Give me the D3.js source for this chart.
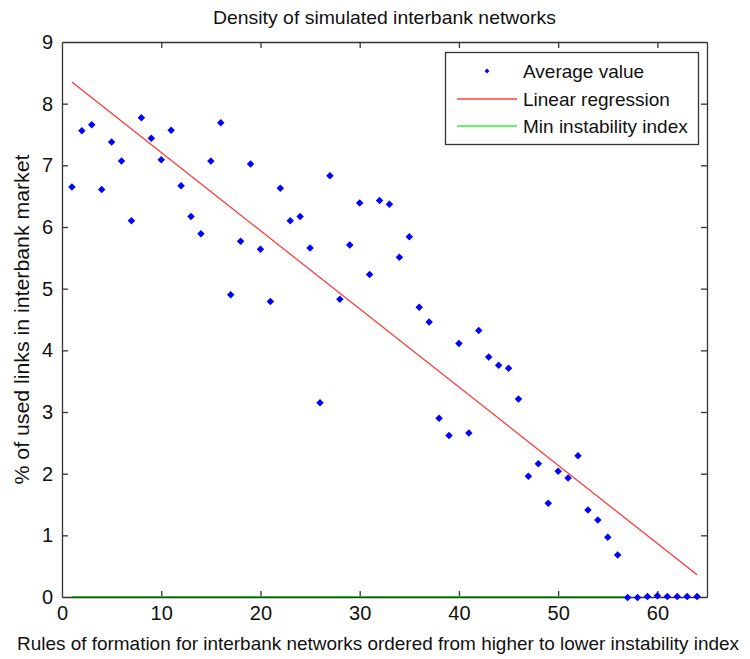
<!DOCTYPE html>
<html>
<head>
<meta charset="utf-8">
<script src="https://cdn.jsdelivr.net/npm/d3@7"></script>
<style>
  body { margin: 0; background: #fff; }
  svg { font-family: "Liberation Sans Narrow", "Arial Narrow", "Liberation Sans", Arial, sans-serif; }
</style>
</head>
<body>
<div id="chart"></div>
<script>
// rule index 1..64
const ruleIndex = d3.range(1, 65);
// average % of used links per rule
const avgValue = [
  6.65, 7.56, 7.66, 6.61, 7.38, 7.07, 6.10, 7.77, 7.44, 7.09,
  7.57, 6.67, 6.17, 5.89, 7.07, 7.69, 4.90, 5.77, 7.02, 5.64,
  4.79, 6.63, 6.10, 6.17, 5.66, 3.15, 6.83, 4.83, 5.71, 6.39,
  5.23, 6.43, 6.37, 5.51, 5.84, 4.70, 4.46, 2.90, 2.62, 4.11,
  2.66, 4.32, 3.89, 3.76, 3.71, 3.21, 1.96, 2.16, 1.52, 2.04,
  1.93, 2.29, 1.41, 1.25, 0.97, 0.68, -0.01, -0.01, 0.01, 0.02,
  0.01, 0.01, 0.01, 0.01
];
// linear regression endpoints
const regressionX = [1, 64];
const regressionY = [8.35, 0.36];
// min instability index line
const minIndexX = [1, 57];
const minIndexY = [0, 0];

const xTicks = [0, 10, 20, 30, 40, 50, 60];
const yTicks = [0, 1, 2, 3, 4, 5, 6, 7, 8, 9];
const legendLabels = ['Average value', 'Linear regression', 'Min instability index'];

const width = 750, height = 659;
const margin = { left: 62, right: 43, top: 42, bottom: 62 };

const svg = d3.select('#chart').append('svg')
  .attr('width', width)
  .attr('height', height);

const x = d3.scaleLinear().domain([0, 65]).range([margin.left, width - margin.right]);
const y = d3.scaleLinear().domain([0, 9]).range([height - margin.bottom, margin.top]);

const axisColor = '#333';
const tickLen = 6;
const fontFamily = '"Liberation Sans Narrow", "Arial Narrow", "Liberation Sans", Arial, sans-serif';

// clip
svg.append('clipPath').attr('id', 'plot-clip')
  .append('rect')
  .attr('x', x(0)).attr('y', y(9))
  .attr('width', x(65) - x(0)).attr('height', y(0) - y(9));

// axes (ticks inside, box style)
const axBottom = svg.append('g')
  .attr('transform', `translate(0,${y(0)})`)
  .call(d3.axisBottom(x).tickValues(xTicks).tickSizeInner(-tickLen).tickSizeOuter(0).tickPadding(9));
const axTop = svg.append('g')
  .attr('transform', `translate(0,${y(9)})`)
  .call(d3.axisTop(x).tickValues(xTicks).tickSizeInner(-tickLen).tickSizeOuter(0).tickFormat(''));
const axLeft = svg.append('g')
  .attr('transform', `translate(${x(0)},0)`)
  .call(d3.axisLeft(y).tickValues(yTicks).tickSizeInner(-tickLen).tickSizeOuter(0).tickPadding(9));
const axRight = svg.append('g')
  .attr('transform', `translate(${x(65)},0)`)
  .call(d3.axisRight(y).tickValues(yTicks).tickSizeInner(-tickLen).tickSizeOuter(0).tickFormat(''));

[axBottom, axTop, axLeft, axRight].forEach(g => {
  g.select('.domain').attr('stroke', axisColor).attr('stroke-width', 1.3);
  g.selectAll('.tick line').attr('stroke', axisColor).attr('stroke-width', 1.3);
  g.selectAll('.tick text').attr('fill', '#111').style('font-size', '20px')
    .style('font-family', fontFamily);
});
// corner ticks sit on the box itself
axBottom.selectAll('.tick').filter(d => d === 0).select('line').remove();
axTop.selectAll('.tick').filter(d => d === 0).select('line').remove();
axLeft.selectAll('.tick').filter(d => d === 0 || d === 9).select('line').remove();
axRight.selectAll('.tick').filter(d => d === 0 || d === 9).select('line').remove();

const plot = svg.append('g').attr('clip-path', 'url(#plot-clip)');

const line = d3.line().x(d => x(d[0])).y(d => y(d[1]));

// min instability index (green)
plot.append('path')
  .datum(d3.zip(minIndexX, minIndexY))
  .attr('d', line)
  .attr('fill', 'none')
  .attr('stroke', '#00e000')
  .attr('stroke-width', 2);

// regression (red)
plot.append('path')
  .datum(d3.zip(regressionX, regressionY))
  .attr('d', line)
  .attr('fill', 'none')
  .attr('stroke', '#ff3030')
  .attr('stroke-width', 1.2);

// points
const marker = d3.symbol().type(d3.symbolSquare).size(28);
svg.append('g')
  .selectAll('path')
  .data(d3.zip(ruleIndex, avgValue))
  .join('path')
  .attr('d', marker)
  .attr('transform', d => `translate(${x(d[0])},${y(d[1])}) rotate(45)`)
  .attr('fill', '#0000ff');

// title
svg.append('text')
  .attr('x', (x(0) + x(65)) / 2)
  .attr('y', 24)
  .attr('text-anchor', 'middle')
  .attr('textLength', 343)
  .attr('lengthAdjust', 'spacingAndGlyphs')
  .style('font-size', '19px')
  .attr('fill', '#111')
  .text('Density of simulated interbank networks');

// x label
svg.append('text')
  .attr('x', 378)
  .attr('y', 650)
  .attr('text-anchor', 'middle')
  .attr('textLength', 722)
  .attr('lengthAdjust', 'spacingAndGlyphs')
  .style('font-size', '19px')
  .attr('fill', '#111')
  .text('Rules of formation for interbank networks ordered from higher to lower instability index');

// y label
svg.append('text')
  .attr('transform', `translate(29,${(y(0) + y(9)) / 2}) rotate(-90)`)
  .attr('text-anchor', 'middle')
  .attr('textLength', 330)
  .attr('lengthAdjust', 'spacingAndGlyphs')
  .style('font-size', '20px')
  .attr('fill', '#111')
  .text('% of used links in interbank market');

// legend
const legend = svg.append('g');
legend.append('rect')
  .attr('x', 445.5).attr('y', 52.5)
  .attr('width', 253).attr('height', 92)
  .attr('fill', '#fff')
  .attr('stroke', axisColor)
  .attr('stroke-width', 1.3);

const rowY = [71, 99, 126];
legendLabels.forEach((label, i) => {
  const row = legend.append('g').attr('transform', `translate(0,${rowY[i]})`);
  if (i === 0) {
    row.append('path')
      .attr('d', d3.symbol().type(d3.symbolSquare).size(12)())
      .attr('transform', 'translate(487,0) rotate(45)')
      .attr('fill', '#0000ff');
  } else {
    row.append('line')
      .attr('x1', 457).attr('x2', 517)
      .attr('stroke', i === 1 ? '#ff4040' : '#30f030')
      .attr('stroke-width', 1.5);
  }
  row.append('text')
    .attr('x', 523)
    .attr('dy', '0.35em')
    .style('font-size', '19px')
    .attr('fill', '#111')
    .text(label);
});
</script>
</body>
</html>
